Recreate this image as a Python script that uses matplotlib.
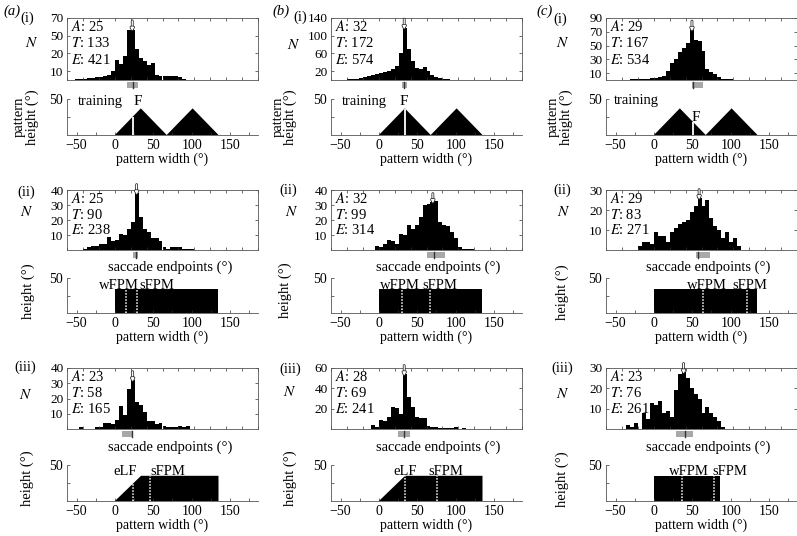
import matplotlib
matplotlib.use("Agg")
import matplotlib.pyplot as plt
import matplotlib.transforms as mtransforms
from matplotlib import patheffects
from matplotlib.patches import Rectangle
import numpy as np

plt.rcParams["font.family"] = ["Liberation Serif", "DejaVu Serif"]
plt.rcParams["mathtext.fontset"] = "stix"
plt.rcParams["font.size"] = 10
plt.rcParams["axes.linewidth"] = 0.6

W, H = 797, 536

# ---------------- data ----------------
bin_width = 5
# histogram counts (left bin edge of first bar, counts per 5-degree bin)
a1_start = -50
a1_counts = [1, 1, 1, 2, 2, 3, 3, 4, 6, 10, 23, 18, 27, 56, 57, 35, 25, 22, 17, 19, 6, 5, 5, 4, 5, 5, 3, 1]
a2_start = -40
a2_counts = [1, 2, 3, 3, 4, 4, 9, 6, 7, 11, 10, 14, 19, 38, 22, 14, 12, 8, 8, 6, 2, 1, 2, 2, 2, 1, 1, 1]
a3_start = -45
a3_counts = [1, 0, 0, 0, 1, 1, 4, 4, 3, 6, 15, 9, 26, 32, 18, 16, 11, 5, 5, 3, 4, 2, 1, 1, 1, 2, 1, 2]
b1_start = -55
b1_counts = [1, 1, 1, 2, 2, 3, 4, 6, 8, 11, 14, 16, 18, 20, 24, 32, 62, 118, 70, 44, 26, 25, 29, 20, 12, 7, 5, 3, 2, 1, 1]
b2_start = -5
b2_counts = [3, 2, 4, 7, 6, 4, 11, 10, 17, 14, 17, 22, 30, 31, 32, 33, 19, 17, 16, 12, 8, 2, 1, 1, 1]
b3_start = -10
b3_counts = [4, 2, 9, 8, 12, 22, 21, 15, 54, 31, 22, 12, 11, 11, 3, 2, 2, 1, 1, 1, 1, 2, 0, 1]
c1_start = -30
c1_counts = [1, 2, 1, 1, 2, 3, 3, 4, 6, 13, 25, 31, 40, 47, 53, 73, 58, 56, 42, 16, 12, 8, 4, 2, 1, 1]
c2_start = -20
c2_counts = [2, 4, 4, 3, 9, 7, 7, 4, 9, 11, 13, 14, 15, 19, 22, 26, 22, 25, 16, 12, 10, 6, 9, 4, 6, 2]
c3_start = -35
c3_counts = [2, 1, 3, 0, 8, 5, 13, 12, 14, 8, 9, 6, 19, 27, 28, 25, 20, 17, 15, 8, 11, 8, 6, 4, 1]

# A / T / E statistics
stats_a = [(25, 133, 421), (25, 90, 238), (23, 58, 165)]
stats_b = [(32, 172, 574), (32, 99, 314), (28, 69, 241)]
stats_c = [(29, 167, 534), (29, 83, 271), (23, 76, 261)]

# y ticks of histograms
yticks_a = [[10, 30, 50, 70], [10, 20, 30, 40], [10, 20, 30, 40]]
ylabels_a = [["10", "20", "50", "70"], ["10", "20", "30", "40"], ["10", "20", "30", "40"]]
yticks_b = [[20, 60, 100, 140], [10, 20, 30, 40], [20, 40, 60]]
yticks_c = [[10, 30, 50, 70, 90], [10, 20, 30], [10, 20, 30]]

# mean marker (arrow) and gray interval with dark line
arrow_a = [22, 27.5, 22.5]
arrow_b = [32, 68, 32]
arrow_c = [48, 57, 37.5]
interval_a = [(15, 29, 22.5), (23.3, 29.5, 26.6), (8.7, 23.3, 21.2)]
interval_b = [(29, 35, 31.7), (60, 83, 69.7), (24.5, 39, 32)]
interval_c = [(47.6, 62, 49.6), (52.6, 70.6, 56), (27.5, 49.6, 39)]

# patterns: outline x / y
tri_x = [0, 33.75, 67.5, 101.25, 135]
tri_y = [0, 37, 0, 37, 0]
rect_x = [0, 0, 135, 135]
rect_y = [0, 35, 35, 0]
trap_x = [0, 34, 135, 135]
trap_y = [0, 35, 35, 0]
rect_short_x = [0, 0, 86, 86]
rect_short_y = [0, 35, 35, 0]

# marker lines in patterns
f_line = [23, 33.5, 51]
fpm_a2 = [14.3, 28.2]
fpm_b2 = [30.4, 66.2]
fpm_c2 = [64.3, 121]
fpm_a3 = [24, 45.6]
fpm_b3 = [34, 76]
fpm_c3 = [36.4, 78]

# labels in patterns (text, x, y)
labels_row1 = [[("training", -19, 47), ("F", 30.4, 47)],
               [("training", -19, 47), ("F", 32.6, 47)],
               [("training", -22.6, 48), ("F", 54.3, 24)]]
labels_row2 = [[("wFPM", 4.6), ("sFPM", 54.8)],
               [("wFPM", 28), ("sFPM", 79.4)],
               [("wFPM", 68.7), ("sFPM", 124.5)]]
labels_row3 = [[("eLF", 13), ("sFPM", 68.4)],
               [("eLF", 34.3), ("sFPM", 87.2)],
               [("wFPM", 46), ("sFPM", 98.7)]]

hist_xlim = (-60, 180)
pat_xlim = (-62.5, 186.5)
pat_ticks = [-50, 0, 50, 100, 150]

# ---------------- layout (pixels) ----------------
col_left = [67, 331, 606]
ax_w = 191
hist_rows = [(18, 80), (190, 250), (368, 429)]
pat_rows = [(99, 135), (278, 313), (465, 501)]


def fig_rect(left, top, bottom):
    return [left / W, 1 - bottom / H, ax_w / W, (bottom - top) / H]


def ftext(x, y, s, **kw):
    fig.text(x / W, 1 - y / H, s, ha=kw.pop("ha", "center"), va=kw.pop("va", "center"), **kw)


fig = plt.figure(figsize=(W / 100, H / 100), dpi=100)

starts = [[a1_start, a2_start, a3_start], [b1_start, b2_start, b3_start], [c1_start, c2_start, c3_start]]
counts = [[a1_counts, a2_counts, a3_counts], [b1_counts, b2_counts, b3_counts], [c1_counts, c2_counts, c3_counts]]
stats = [stats_a, stats_b, stats_c]
yticks = [yticks_a, yticks_b, yticks_c]
arrows = [arrow_a, arrow_b, arrow_c]
intervals = [interval_a, interval_b, interval_c]
fpm2 = [fpm_a2, fpm_b2, fpm_c2]
fpm3 = [fpm_a3, fpm_b3, fpm_c3]
shapes3 = [(trap_x, trap_y), (trap_x, trap_y), (rect_short_x, rect_short_y)]

TICK_FS = 9.5

for c in range(3):
    for r in range(3):
        # ---------- histogram ----------
        ax = fig.add_axes(fig_rect(col_left[c], *hist_rows[r]))
        cnt = np.array(counts[c][r], dtype=float)
        edges = starts[c][r] + bin_width * np.arange(len(cnt))
        ax.bar(edges, cnt, width=bin_width, align="edge", color="black", linewidth=0)
        ytop = yticks[c][r][-1]
        ax.set_xlim(*hist_xlim)
        ax.set_ylim(0, ytop)
        ax.set_yticks(yticks[c][r])
        if c == 0 and r == 0:
            ax.set_yticklabels(ylabels_a[0])
        ax.set_xticks(np.arange(-60, 181, 20))
        ax.set_xticklabels([])
        ax.tick_params(direction="in", length=2.5, width=0.5, top=True, right=True,
                       pad=2.5, labelsize=TICK_FS, colors="#333333", labelcolor="black")
        for sp in ax.spines.values():
            sp.set_color("#555555")
            sp.set_linewidth(0.6)
        A, T, E = stats[c][r]
        for yy, s in zip([0.86, 0.59, 0.33], [r"$A$: %d" % A, r"$T$: %d" % T, r"$E$: %d" % E]):
            ax.text(0.02, yy, s, transform=ax.transAxes, ha="left", va="center", fontsize=10.5)
        # arrow at peak
        ax_x = arrows[c][r]
        idx = int((ax_x - starts[c][r]) // bin_width)
        ay = cnt[idx]
        ann = ax.annotate("", xy=(ax_x, ay * 0.97), xytext=(ax_x, ay + 0.14 * ytop),
                          arrowprops=dict(arrowstyle="-|>", color="white", lw=0.9,
                                          mutation_scale=4.5, shrinkA=0, shrinkB=0),
                          annotation_clip=False)
        ann.arrow_patch.set_path_effects([patheffects.withStroke(linewidth=2.0, foreground="#222222")])
        # interval bar
        lo, hi, m = intervals[c][r]
        trans = mtransforms.blended_transform_factory(ax.transData, ax.transAxes)
        ax.add_patch(Rectangle((lo, -0.135), hi - lo, 0.095, transform=trans, clip_on=False,
                               facecolor="#a8a8a8", edgecolor="none"))
        ax.plot([m, m], [-0.135, -0.04], transform=trans, clip_on=False, color="#333333", lw=1.0)

        # ---------- pattern ----------
        pax = fig.add_axes(fig_rect(col_left[c], *pat_rows[r]))
        pax.set_xlim(*pat_xlim)
        pax.set_ylim(0, 50)
        for side in ["top", "right"]:
            pax.spines[side].set_visible(False)
        pax.spines["left"].set_bounds(0, 50)
        for sp in ["left", "bottom"]:
            pax.spines[sp].set_color("#555555")
            pax.spines[sp].set_linewidth(0.6)
        pax.set_yticks([50])
        pax.set_yticks([25], minor=True)
        pax.set_xticks(pat_ticks)
        pax.set_xticks(np.arange(-50, 176, 25), minor=True)
        pax.tick_params(which="both", direction="in", length=2.5, width=0.5, pad=3,
                        labelsize=10, colors="#333333", labelcolor="black")
        pax.set_xlabel("pattern width (°)", fontsize=10, labelpad=0)

        if r == 0:
            sx, sy = tri_x, tri_y
            pax.fill(sx, sy, color="black", lw=0)
            fx = f_line[c]
            pax.plot([fx, fx], [0, np.interp(fx, sx, sy)], color="white", lw=1.3, solid_capstyle="butt")
            for s, tx, ty in labels_row1[c]:
                pax.text(tx, ty, s, ha="center", va="center", fontsize=11 if s == "F" else 10.5)
        elif r == 1:
            pax.fill(rect_x, rect_y, color="black", lw=0)
            for fx in fpm2[c]:
                pax.plot([fx, fx], [0, 35], color="white", lw=1.1, ls=(0, (1, 1)))
            for s, tx in labels_row2[c]:
                pax.text(tx, 35, s, ha="center", va="baseline", fontsize=10.5)
        else:
            sx, sy = shapes3[c]
            pax.fill(sx, sy, color="black", lw=0)
            for fx in fpm3[c]:
                pax.plot([fx, fx], [0, np.interp(fx, sx[:3], sy[:3]) if c < 2 else 35],
                         color="white", lw=1.1, ls=(0, (1, 1)))
            for s, tx in labels_row3[c]:
                pax.text(tx, 36, s, ha="center", va="baseline", fontsize=10.5)

# ---------------- figure-level labels ----------------
ftext(12, 11, "(a)", style="italic", fontsize=10.5)
ftext(281, 11, "(b)", style="italic", fontsize=10.5)
ftext(545, 11, "(c)", style="italic", fontsize=10.5)

row_id_pos = [[(27, 18), (26, 192), (25, 367)],
              [(300, 17), (288, 190), (290, 369)],
              [(560, 19), (562, 190), (562, 368)]]
for c in range(3):
    for r, lab in enumerate(["(i)", "(ii)", "(iii)"]):
        ftext(*row_id_pos[c][r], lab, fontsize=10.5)

n_pos = [[(32, 43), (27, 212), (26, 395)],
         [(294, 45), (292, 212), (290, 392)],
         [(563, 43), (564, 212), (563, 394)]]
for c in range(3):
    for r in range(3):
        ftext(*n_pos[c][r], r"$N$", fontsize=11)

# pattern y labels
pat_lab1 = [(19, 32), (278, 290), (553, 566)]
for c in range(3):
    ftext(pat_lab1[c][0], 117, "pattern", rotation=90, fontsize=10.5)
    ftext(pat_lab1[c][1], 117, "height (°)", rotation=90, fontsize=10.5)
height_pos = [[(28, 291), (27, 478)], [(285, 290), (290, 478)], [(562, 292), (562, 479)]]
for c in range(3):
    for (x, y) in height_pos[c]:
        ftext(x, y, "height (°)", rotation=90, fontsize=10.5)

# saccade endpoints labels
sacc_x = [170, 438, 708]
for c in range(3):
    ftext(sacc_x[c], 267, "saccade endpoints (°)", fontsize=10.5)
    ftext(sacc_x[c], 447, "saccade endpoints (°)", fontsize=10.5)

fig.savefig("out.png", dpi=100)
